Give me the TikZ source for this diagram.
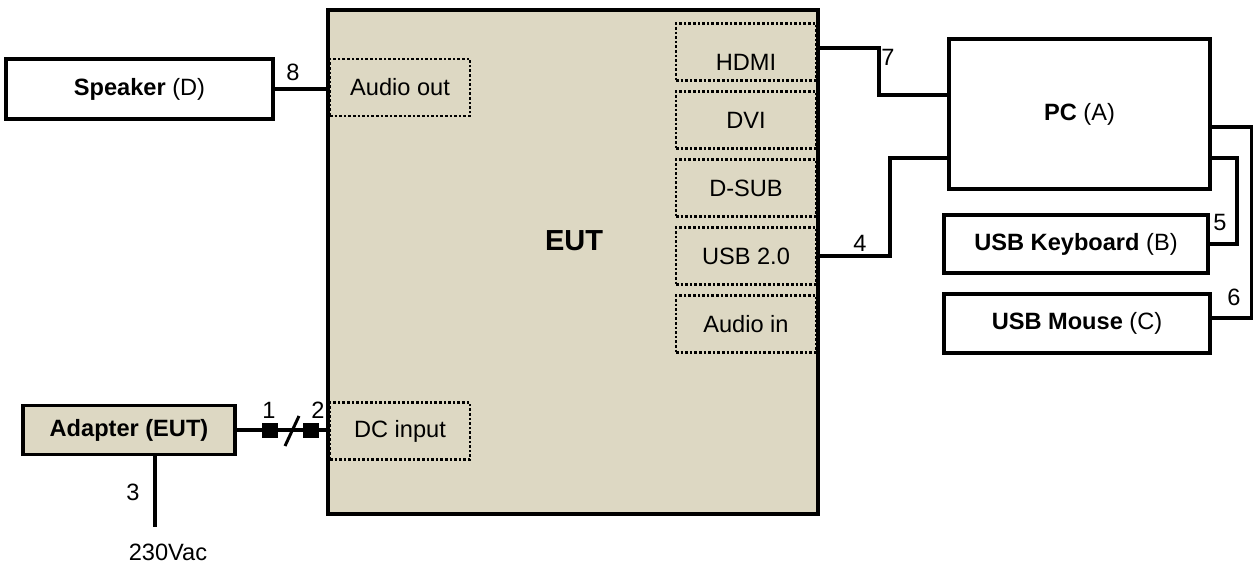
\documentclass[tikz,border=0pt]{standalone}
\usepackage{fontspec}
\setmainfont{Liberation Sans}
\usetikzlibrary{positioning,calc}
\definecolor{eutfill}{RGB}{221,216,195}
\tikzset{
  devbox/.style={draw=black, line width=1.9pt, fill=white, inner sep=0pt,
                 font=\fontsize{11.8}{14}\selectfont, align=center},
  eutbox/.style={devbox, fill=eutfill},
  portbox/.style={draw=black, line width=1.4pt, dash pattern=on 1.3pt off 1pt,
                  inner sep=0pt, minimum width=70pt, minimum height=28.5pt,
                  font=\fontsize{11.8}{14}\selectfont},
  wire/.style={line width=1.9pt, black},
  plug/.style={fill=black, draw=none, minimum width=8pt, minimum height=7.5pt, inner sep=0pt},
  numlbl/.style={font=\fontsize{11.8}{14}\selectfont, inner sep=0pt}
}
\begin{document}
\begin{tikzpicture}[x=0.5pt, y=-0.5pt]
  \useasboundingbox (0,0) rectangle (1253,564);

  % EUT with its ports
  \node[eutbox, minimum width=245pt, minimum height=252pt] (eut) at (573,262) {};
  \node[font=\fontsize{14.5}{17}\selectfont\bfseries] (eutlabel) at (574,241) {EUT};
  \node[portbox] (audioout) at (400,87.5) {Audio out};
  \node[portbox] (dcin) at (400,431) {DC input};
  \foreach \p/\t [count=\i from 0] in {hdmi/\raisebox{-5pt}[\height][\depth]{HDMI}, dvi/DVI,
                                       dsub/D-SUB, usb/USB 2.0, audioin/Audio in}{
    \node[portbox] (\p) at (746,52+68*\i) {\t};
  }

  % Peripherals
  \node[devbox, minimum width=133.5pt, minimum height=30pt] (spk) at (139.5,89)
        {\textbf{Speaker} (D)};
  \node[devbox, minimum width=130.5pt, minimum height=75pt] (pc) at (1079.5,114)
        {\textbf{PC} (A)};
  \node[devbox, minimum width=132pt, minimum height=29pt] (kbd) at (1076,244)
        {\textbf{USB Keyboard} (B)};
  \node[devbox, minimum width=133pt, minimum height=29.5pt] (mouse) at (1077,323.5)
        {\textbf{USB Mouse} (C)};
  \node[eutbox, minimum width=106pt, minimum height=24.5pt, font=\fontsize{11.8}{14}\selectfont\bfseries]
        (adapter) at (129,430) {Adapter (EUT)};

  % Cables
  \draw[wire] (spk.east) -- (spk.east -| eut.west);
  \draw[wire] (eut.east |- 0,48) -- ++(59,0) |- (pc.west |- 0,95);
  \draw[wire] (eut.east |- usb.east) -- ++(70,0) |- (pc.west |- 0,158);
  \draw[wire] (pc.east |- 0,158) -- ++(25,0) |- (kbd.east);
  \draw[wire] (pc.east |- 0,127) -- ++(40,0) |- (mouse.east |- 0,318);

  % DC cable with connectors
  \node[plug] (plugA) at (270,430) {};
  \node[plug] (plugB) at (311,430) {};
  \draw[wire] (adapter.east) -- (plugA) -- (plugB) -- (adapter.east -| eut.west);
  \draw[line width=1.5pt] (285,446) -- (299,416);

  % Mains
  \coordinate (mains) at (155,527);
  \draw[wire] (adapter.south -| mains) -- (mains);
  \node[numlbl] (vac) at (168,552) {230Vac};

  % Cable numbers
  \node[numlbl] (n1) at (269,410) {1};
  \node[numlbl] (n2) at (318,410) {2};
  \node[numlbl] (n3) at (133,492) {3};
  \node[numlbl] (n4) at (860,243) {4};
  \node[numlbl] (n5) at (1220,222) {5};
  \node[numlbl] (n6) at (1234,297) {6};
  \node[numlbl] (n7) at (888,57) {7};
  \node[numlbl] (n8) at (293,72) {8};
\end{tikzpicture}
\end{document}
